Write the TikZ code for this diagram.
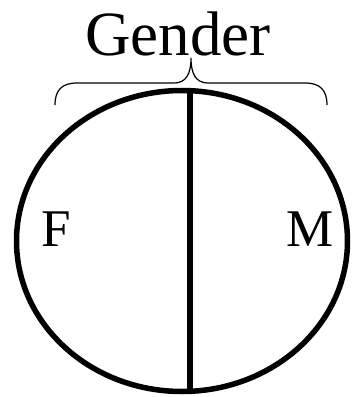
\documentclass[tikz,border=0pt]{standalone}
\usepackage{fontspec}
\setmainfont{Liberation Serif}

\newcommand*{\picw}{352}
\newcommand*{\pich}{397}

\begin{document}
\begin{tikzpicture}
[
	x=1pt,y=-1pt,
	outline/.style={line width=5.5pt},
	bracepath/.style={line width=1.2pt},
	biglabel/.style={anchor=base,inner sep=0pt,font=\fontsize{63}{63}\selectfont},
	partlabel/.style={anchor=base,inner sep=0pt,font=\fontsize{53}{53}\selectfont},
]

	\useasboundingbox (0,0) rectangle (\picw,\pich);

	% ellipse and dividing line
	\coordinate (centre) at (182,241);
	\coordinate (top) at (190,91);
	\coordinate (bottom) at (190,391);
	\draw[outline] (centre) ellipse [x radius=165.5, y radius=150.5];
	\draw[outline] (top) -- (bottom);

	% brace
	\coordinate (braceleft) at (55,105);
	\coordinate (braceright) at (327,105);
	\coordinate (bracetip) at (191,58);
	\draw[bracepath] (braceleft) .. controls (55,90) and (62,83) .. (77,83) -- (174,83)
		.. controls (186,83) and (191,74) .. (bracetip)
		.. controls (191,74) and (196,83) .. (208,83) -- (305,83)
		.. controls (320,83) and (327,90) .. (braceright);

	% labels
	\node[biglabel] (gender) at (178,55) {Gender};
	\node[partlabel] (female) at (56.5,246) {F};
	\node[partlabel] (male) at (310.5,246) {M};

\end{tikzpicture}
\end{document}
